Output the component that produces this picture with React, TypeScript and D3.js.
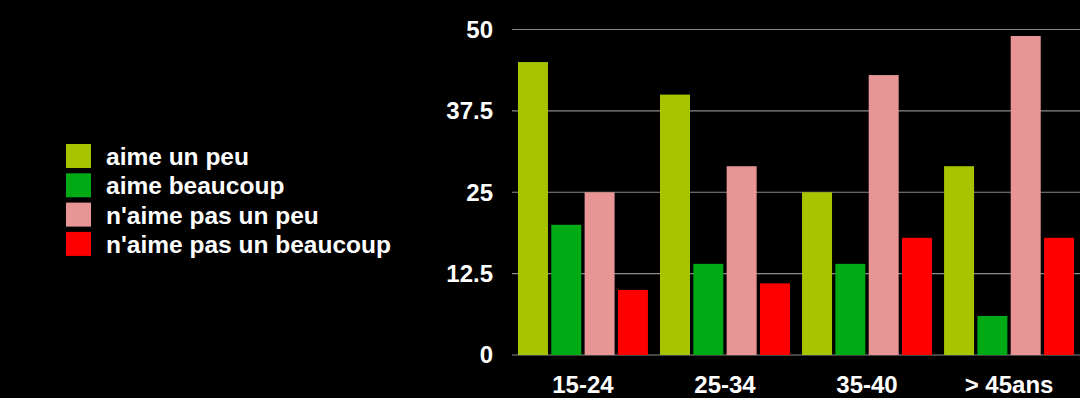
import React from 'react';
import * as d3 from 'd3';

// data
const groups = ['15-24', '25-34', '35-40', '> 45ans'];
const series = ['aime un peu', 'aime beaucoup', "n'aime pas un peu", "n'aime pas un beaucoup"];
const aimeUnPeu = [45, 40, 25, 29];
const aimeBeaucoup = [20, 14, 14, 6];
const naimePasUnPeu = [25, 29, 43, 49];
const naimePasBeaucoup = [10, 11, 18, 18];
const yTicks = [0, 12.5, 25, 37.5, 50];
const colors = ['#a8c400', '#00aa14', '#e89595', '#ff0000'];

const values = [aimeUnPeu, aimeBeaucoup, naimePasUnPeu, naimePasBeaucoup];

const width = 1080;
const height = 398;
const margin = { top: 29.5, right: 0, bottom: 43, left: 512 };
const font = '"Liberation Sans", Arial, Helvetica, sans-serif';

export default function App() {
  const x0 = d3.scaleBand<string>()
    .domain(groups)
    .range([margin.left, width - margin.right])
    .paddingInner(0.085)
    .paddingOuter(0.042);
  const x1 = d3.scaleBand<string>()
    .domain(series)
    .range([0, x0.bandwidth()])
    .paddingInner(0.1);
  const y = d3.scaleLinear()
    .domain([0, 50])
    .range([height - margin.bottom, margin.top]);

  return (
    <svg width={width} height={height}
      style={{ position: 'absolute', left: 0, top: 0, display: 'block', background: '#000' }}>
      <rect width={width} height={height} fill="#000" />

      {/* gridlines + y labels */}
      {yTicks.map((t) => (
        <g key={t}>
          <line x1={margin.left} x2={width} y1={y(t)} y2={y(t)} stroke="#8a8a8a" strokeWidth={1.2} />
          <text x={493} y={y(t)} dy="0.35em" textAnchor="end" fill="#fff"
            fontFamily={font} fontWeight="bold" fontSize={24}>{t}</text>
        </g>
      ))}

      {/* bars */}
      {groups.map((g, gi) => (
        <g key={g} transform={`translate(${x0(g)},0)`}>
          {series.map((s, si) => (
            <rect key={s} x={x1(s)} width={x1.bandwidth()}
              y={y(values[si][gi])} height={y(0) - y(values[si][gi])} fill={colors[si]} />
          ))}
        </g>
      ))}

      {/* x labels */}
      {groups.map((g) => (
        <text key={g} x={(x0(g) as number) + x0.bandwidth() / 2} y={393} textAnchor="middle"
          fill="#fff" fontFamily={font} fontWeight="bold" fontSize={24}>{g}</text>
      ))}

      {/* legend */}
      {series.map((s, i) => (
        <g key={s} transform={`translate(66,${144 + i * 29.3})`}>
          <rect width={25} height={24} fill={colors[i]} />
          <text x={40} y={21} fill="#fff" fontFamily={font} fontWeight="bold" fontSize={24.5}>{s}</text>
        </g>
      ))}
    </svg>
  );
}
